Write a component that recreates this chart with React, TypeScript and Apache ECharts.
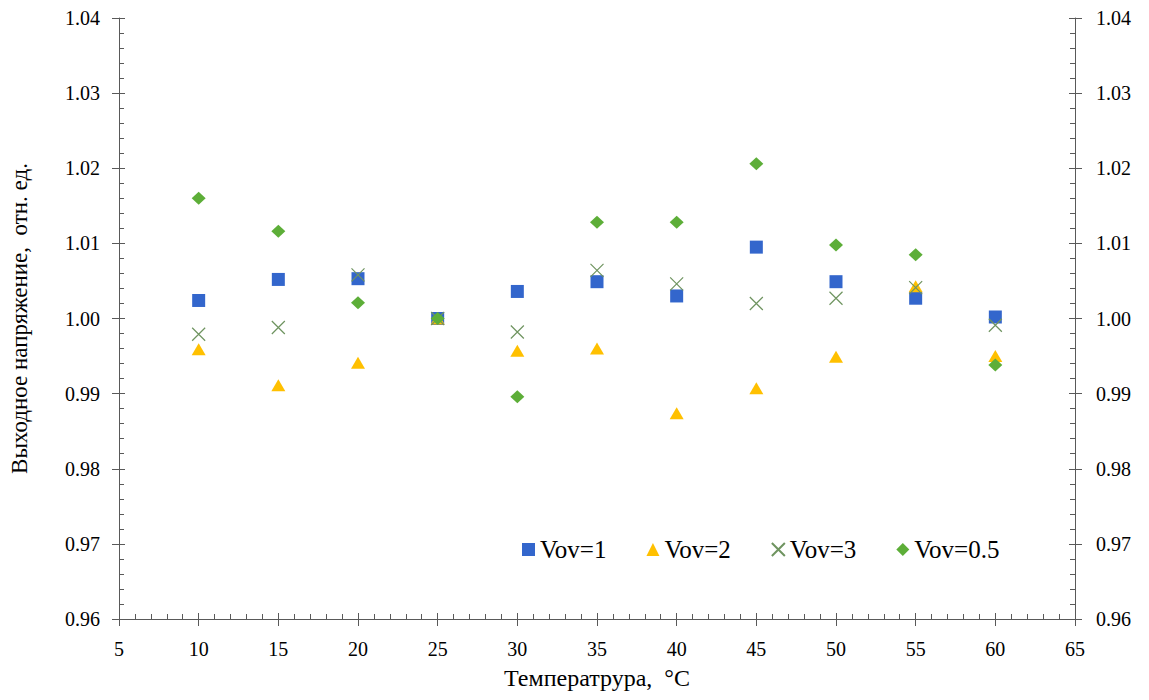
import React, { useEffect, useRef } from "react";
import * as echarts from "echarts";

const temperatures = [10, 15, 20, 25, 30, 35, 40, 45, 50, 55, 60];
const vov1 = [1.0024, 1.0052, 1.0053, 1.0, 1.0036, 1.0049, 1.003, 1.0095, 1.0049, 1.0027, 1.0002];
const vov2 = [0.9959, 0.9911, 0.9941, 1.0, 0.9957, 0.996, 0.9874, 0.9907, 0.9949, 1.0043, 0.995];
const vov3 = [0.9979, 0.9988, 1.0058, 1.0, 0.9982, 1.0064, 1.0046, 1.002, 1.0027, 1.0041, 0.9991];
const vov05 = [1.016, 1.0116, 1.0021, 1.0, 0.9896, 1.0128, 1.0128, 1.0206, 1.0098, 1.0085, 0.9938];
const seriesNames = ["Vov=1", "Vov=2", "Vov=3", "Vov=0.5"];

const FONT = "'Liberation Serif', 'Times New Roman', serif";
const AXIS_COLOR = "#595959";

const toPairs = (ys: number[]) => temperatures.map((t, i) => [t, ys[i]]);

export default function App() {
  const ref = useRef<HTMLDivElement>(null);
  useEffect(() => {
    if (!ref.current) return;
    const chart = echarts.init(ref.current, undefined, { renderer: "svg" });
    const xBase = { type: "value", min: 5, max: 65, interval: 5, splitLine: { show: false } };
    const yBase = { type: "value", min: 0.96, max: 1.04, interval: 0.01, splitLine: { show: false } };
    const lineStyle = { color: AXIS_COLOR, width: 1 };
    const labelStyle = { color: "#000", fontFamily: FONT, fontSize: 20 };
    chart.setOption({
      animation: false,
      backgroundColor: "#ffffff",
      textStyle: { fontFamily: FONT, color: "#000" },
      grid: { left: 118, right: 74, top: 18, bottom: 81, containLabel: false },
      xAxis: [
        {
          ...xBase,
          position: "bottom",
          axisLine: { show: true, lineStyle },
          axisTick: { show: true, inside: true, length: 6, lineStyle },
          minorTick: { show: true, splitNumber: 5, length: 5, lineStyle },
          axisLabel: { ...labelStyle, margin: 20 },
          name: "Температрура,  °C",
          nameLocation: "middle",
          nameGap: 47,
          nameTextStyle: { color: "#000", fontFamily: FONT, fontSize: 24 },
        },
        {
          ...xBase,
          position: "bottom",
          axisLine: { show: false },
          axisTick: { show: true, inside: false, length: 7, lineStyle },
          axisLabel: { show: false },
        },
      ],
      yAxis: [
        {
          ...yBase,
          position: "left",
          axisLine: { show: true, lineStyle },
          axisTick: { show: true, inside: true, length: 6, lineStyle },
          minorTick: { show: true, splitNumber: 5, length: 5, lineStyle },
          axisLabel: { ...labelStyle, margin: 19, formatter: (v: number) => v.toFixed(2) },
          name: "Выходное напряжение,  отн. ед.",
          nameLocation: "middle",
          nameGap: 88,
          nameTextStyle: { color: "#000", fontFamily: FONT, fontSize: 23 },
        },
        {
          ...yBase,
          position: "left",
          axisLine: { show: false },
          axisTick: { show: true, inside: false, length: 7, lineStyle },
          axisLabel: { show: false },
        },
        {
          ...yBase,
          position: "right",
          axisLine: { show: true, lineStyle },
          axisTick: { show: true, inside: true, length: 6, lineStyle },
          minorTick: { show: true, splitNumber: 5, length: 5, lineStyle },
          axisLabel: { ...labelStyle, margin: 21, formatter: (v: number) => v.toFixed(2) },
        },
        {
          ...yBase,
          position: "right",
          axisLine: { show: false },
          axisTick: { show: true, inside: false, length: 7, lineStyle },
          axisLabel: { show: false },
        },
      ],
      legend: {
        left: 517,
        top: 532,
        itemWidth: 13,
        itemHeight: 13,
        itemGap: 40,
        textStyle: { color: "#000", fontFamily: FONT, fontSize: 25, padding: [0, 0, 0, 0] },
        data: seriesNames,
      },
      series: [
        {
          name: seriesNames[0],
          type: "scatter",
          symbol: "rect",
          symbolSize: 13,
          itemStyle: { color: "#3366CC", opacity: 1 },
          data: toPairs(vov1),
        },
        {
          name: seriesNames[1],
          type: "scatter",
          symbol: "triangle",
          symbolSize: [14, 12],
          itemStyle: { color: "#FFC000", opacity: 1 },
          data: toPairs(vov2),
        },
        {
          name: seriesNames[2],
          type: "scatter",
          symbol: "path://M0,0L10,10M10,0L0,10",
          symbolSize: 13,
          itemStyle: { color: "transparent", borderColor: "#6f9460", borderWidth: 1.2, opacity: 1 },
          data: toPairs(vov3),
        },
        {
          name: seriesNames[3],
          type: "scatter",
          symbol: "diamond",
          symbolSize: [14, 13],
          itemStyle: { color: "#5DAE38", opacity: 1 },
          data: toPairs(vov05),
        },
      ],
    });
    return () => chart.dispose();
  }, []);
  return <div ref={ref} style={{ width: 1149, height: 700, margin: -8 }} />;
}
